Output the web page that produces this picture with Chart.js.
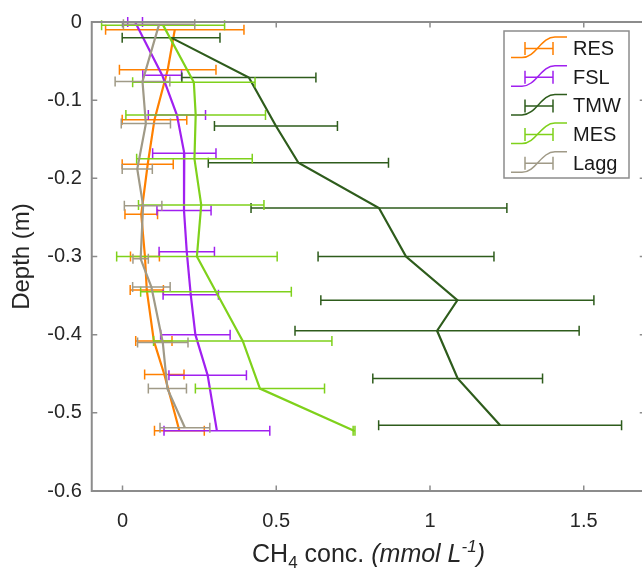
<!DOCTYPE html>
<html>
<head>
<meta charset="utf-8">
<script src="https://cdn.jsdelivr.net/npm/chart.js@4.4.0/dist/chart.umd.min.js"></script>
<style>
  html, body { margin: 0; padding: 0; background: #fff; overflow: hidden; }
  #wrap { width: 660px; height: 581px; }
</style>
</head>
<body>
<div id="wrap"><canvas id="ch4" width="660" height="581"></canvas></div>
<script>
'use strict';

/* ── Data ──────────────────────────────────────────────────── */
const xTicks = [0, 0.5, 1, 1.5];
const yTicks = [0, -0.1, -0.2, -0.3, -0.4, -0.5, -0.6];

const resDepth = [-0.010, -0.061, -0.125, -0.182, -0.246, -0.300, -0.343, -0.408, -0.451, -0.523];
const resConc  = [0.170, 0.147, 0.104, 0.082, 0.061, 0.073, 0.079, 0.102, 0.136, 0.185];
const resErr   = [0.225, 0.157, 0.105, 0.083, 0.053, 0.047, 0.054, 0.059, 0.064, 0.081];

const fslDepth = [0.000, -0.068, -0.119, -0.168, -0.241, -0.294, -0.349, -0.400, -0.452, -0.523];
const fslConc  = [0.041, 0.129, 0.177, 0.201, 0.200, 0.209, 0.222, 0.237, 0.277, 0.307];
const fslErr   = [0.024, 0.063, 0.093, 0.103, 0.088, 0.090, 0.090, 0.113, 0.126, 0.172];

const tmwDepth = [-0.020, -0.071, -0.133, -0.180, -0.238, -0.300, -0.356, -0.395, -0.456, -0.516];
const tmwConc  = [0.158, 0.411, 0.499, 0.572, 0.834, 0.922, 1.089, 1.023, 1.090, 1.228];
const tmwErr   = [0.159, 0.218, 0.200, 0.293, 0.416, 0.286, 0.444, 0.462, 0.276, 0.395];

const mesDepth = [-0.004, -0.077, -0.119, -0.175, -0.234, -0.300, -0.345, -0.408, -0.469, -0.523];
const mesConc  = [0.132, 0.232, 0.238, 0.234, 0.256, 0.242, 0.304, 0.391, 0.447, 0.753];
const mesErr   = [0.200, 0.199, 0.227, 0.188, 0.204, 0.261, 0.245, 0.290, 0.210, 0.003];

const laggDepth = [-0.003, -0.076, -0.130, -0.188, -0.235, -0.303, -0.339, -0.410, -0.469, -0.519];
const laggConc  = [0.119, 0.065, 0.076, 0.048, 0.067, 0.059, 0.094, 0.131, 0.146, 0.203];
const laggErr   = [0.116, 0.089, 0.080, 0.049, 0.061, 0.025, 0.061, 0.082, 0.062, 0.081];

const SERIES = [
  { label: 'RES',  color: '#ff8000', depth: resDepth,  conc: resConc,  err: resErr  },
  { label: 'FSL',  color: '#a020f0', depth: fslDepth,  conc: fslConc,  err: fslErr  },
  { label: 'TMW',  color: '#2e5c1c', depth: tmwDepth,  conc: tmwConc,  err: tmwErr  },
  { label: 'MES',  color: '#7fd11b', depth: mesDepth,  conc: mesConc,  err: mesErr  },
  { label: 'Lagg', color: '#a09a87', depth: laggDepth, conc: laggConc, err: laggErr },
];

const FONT     = '"Liberation Sans", Arial, Helvetica, sans-serif';
const AXIS_COL = '#8c8c8c';
const TEXT_COL = '#262626';

/* ── Horizontal error bars, drawn under each dataset's line ── */
const errorBarPlugin = {
  id: 'hErrorBars',
  beforeDatasetDraw(ch, args) {
    const ds = ch.data.datasets[args.index];
    if (!ds.errX) return;
    const xs = ch.scales.x, ys = ch.scales.y;
    const c = ch.ctx;
    c.save();
    c.strokeStyle = ds.borderColor;
    c.lineWidth = 1.5;
    ds.data.forEach((p, k) => {
      const e  = ds.errX[k];
      const x1 = xs.getPixelForValue(p.x - e);
      const x2 = xs.getPixelForValue(p.x + e);
      const y  = ys.getPixelForValue(p.y);
      c.beginPath();
      c.moveTo(x1, y); c.lineTo(x2, y);
      c.moveTo(x1, y - 5); c.lineTo(x1, y + 5);
      c.moveTo(x2, y - 5); c.lineTo(x2, y + 5);
      c.stroke();
    });
    c.restore();
  }
};

/* ── MATLAB-like box with inward ticks, titles, legend ─────── */
const framePlugin = {
  id: 'frame',
  afterDraw(ch) {
    const c = ch.ctx;
    const a = ch.chartArea;
    const xs = ch.scales.x, ys = ch.scales.y;
    c.save();

    // box
    c.strokeStyle = AXIS_COL;
    c.lineWidth = 2;
    c.strokeRect(a.left, a.top, a.right - a.left, a.bottom - a.top);

    // inward ticks
    c.lineWidth = 1.5;
    c.beginPath();
    xTicks.forEach(v => {
      const x = xs.getPixelForValue(v);
      c.moveTo(x, a.bottom); c.lineTo(x, a.bottom - 5.5);
      c.moveTo(x, a.top);    c.lineTo(x, a.top + 5.5);
    });
    yTicks.forEach(v => {
      const y = ys.getPixelForValue(v);
      c.moveTo(a.left, y);  c.lineTo(a.left + 5.5, y);
      c.moveTo(a.right, y); c.lineTo(a.right - 5.5, y);
    });
    c.stroke();

    // y title
    c.fillStyle = TEXT_COL;
    c.font = `24px ${FONT}`;
    c.save();
    c.translate(22, (a.top + a.bottom) / 2);
    c.rotate(-Math.PI / 2);
    c.textAlign = 'center';
    c.textBaseline = 'middle';
    c.fillText('Depth (m)', 0, 0);
    c.restore();

    // x title: CH4 conc. (mmol L-1) with sub/superscript
    const base = 562;
    const parts = [
      { t: 'CH',        f: `25px ${FONT}`,        dy: 0 },
      { t: '4',         f: `17px ${FONT}`,        dy: 6 },
      { t: ' conc. ',   f: `25px ${FONT}`,        dy: 0 },
      { t: '(mmol L',   f: `italic 25px ${FONT}`, dy: 0 },
      { t: '-1',        f: `italic 17px ${FONT}`, dy: -10 },
      { t: ')',         f: `italic 25px ${FONT}`, dy: 0 },
    ];
    let total = 0;
    parts.forEach(p => { c.font = p.f; p.w = c.measureText(p.t).width; total += p.w; });
    let x = (a.left + a.right) / 2 - total / 2;
    c.textAlign = 'left';
    c.textBaseline = 'alphabetic';
    parts.forEach(p => { c.font = p.f; c.fillText(p.t, x, base + p.dy); x += p.w; });

    // legend
    const L = { x: 504, y: 31, w: 125, h: 147 };
    c.fillStyle = '#fff';
    c.fillRect(L.x, L.y, L.w, L.h);
    c.strokeStyle = AXIS_COL;
    c.lineWidth = 1.5;
    c.strokeRect(L.x, L.y, L.w, L.h);
    SERIES.forEach((s, i) => {
      const yc = 48.5 + i * 28.7;
      c.strokeStyle = s.color;
      c.lineWidth = 1.5;
      c.beginPath();
      c.moveTo(511, yc + 9);
      c.lineTo(522, yc + 9);
      c.bezierCurveTo(536, yc + 9, 541, yc - 11.5, 555, yc - 11.5);
      c.lineTo(567, yc - 11.5);
      c.stroke();
      c.beginPath();
      c.moveTo(525, yc); c.lineTo(553, yc);
      c.moveTo(525, yc - 6.5); c.lineTo(525, yc + 6.5);
      c.moveTo(553, yc - 6.5); c.lineTo(553, yc + 6.5);
      c.stroke();
      c.fillStyle = '#1a1a1a';
      c.font = `20px ${FONT}`;
      c.textBaseline = 'middle';
      c.fillText(s.label, 573, yc + 1);
    });

    c.restore();
  }
};

/* ── Chart ─────────────────────────────────────────────────── */
const datasets = SERIES.map((s, i) => ({
  label: s.label,
  data: s.conc.map((v, k) => ({ x: v, y: s.depth[k] })),
  errX: s.err,
  showLine: true,
  borderColor: s.color,
  backgroundColor: s.color,
  borderWidth: 2.2,
  pointRadius: 0,
  tension: 0,
  fill: false,
  order: SERIES.length - 1 - i,
}));

new Chart(document.getElementById('ch4').getContext('2d'), {
  type: 'scatter',
  data: { datasets },
  plugins: [errorBarPlugin, framePlugin],
  options: {
    responsive: false,
    animation: false,
    layout: { padding: { top: 14, right: 14.75, left: 0, bottom: 0 } },
    plugins: { legend: { display: false }, tooltip: { enabled: false } },
    scales: {
      x: {
        type: 'linear', min: -0.1, max: 1.7,
        grid: { display: false, drawTicks: false },
        border: { display: false },
        afterBuildTicks: sc => { sc.ticks = xTicks.map(v => ({ value: v })); },
        afterFit: sc => { sc.height = 90; },
        ticks: { font: { family: FONT, size: 20 }, color: TEXT_COL, padding: 18,
                 maxRotation: 0, callback: v => String(+(+v).toFixed(2)) }
      },
      y: {
        type: 'linear', min: -0.6, max: 0,
        grid: { display: false, drawTicks: false },
        border: { display: false },
        afterBuildTicks: sc => { sc.ticks = yTicks.map(v => ({ value: v })); },
        afterFit: sc => { sc.width = 91.75; },
        ticks: { font: { family: FONT, size: 20 }, color: TEXT_COL, padding: 10,
                 callback: v => String(+(+v).toFixed(2)) }
      }
    }
  }
});
</script>
</body>
</html>
